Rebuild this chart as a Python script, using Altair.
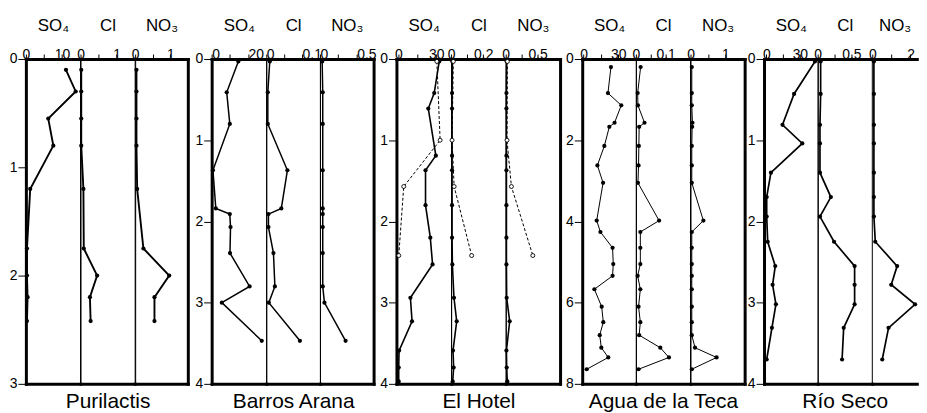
import altair as alt
import pandas as pd

FONT = "Liberation Sans"
H = 327

# ---------------- data ----------------
PANEL_NAMES = ["Purilactis", "Barros Arana", "El Hotel", "Agua de la Teca", "Río Seco"]
COL_TITLES = ["SO₄", "Cl", "NO₃"]

PUR_DEPTH = [0.1, 0.3, 0.55, 0.8, 1.2, 1.75, 2.0, 2.2, 2.42]
PUR_SO4 = [11.1, 13.8, 6.2, 7.6, 1.2, 0.3, 0.3, 0.47, 0.3]
PUR_CL = [0.02, 0.02, 0.02, 0.02, 0.08, 0.09, 0.46, 0.26, 0.28]
PUR_NO3 = [0.037, 0.037, 0.037, 0.037, 0.057, 0.235, 0.97, 0.55, 0.55]

BA_DEPTH = [0.03, 0.41, 0.80, 1.37, 1.84, 1.91, 2.07, 2.39, 2.80, 3.0, 3.47]
BA_SO4 = [14.7, 8.3, 10.0, 0.7, 2.3, 10.0, 10.4, 10.1, 20.9, 5.6, 27.6]
BA_CL = [0.0097, 0.0042, 0.0042, 0.059, 0.042, 0.006, 0.006, 0.020, 0.024, 0.007, 0.094]
BA_NO3 = [0.03, 0.038, 0.038, 0.038, 0.038, 0.038, 0.038, 0.038, 0.038, 0.061, 0.349]

EH_DEPTH = [0.03, 0.42, 0.61, 1.19, 1.37, 1.8, 2.2, 2.53, 2.94, 3.23, 3.59, 3.8, 3.97]
EH_SO4 = [32.4, 28.4, 23.7, 29.7, 21.5, 21.5, 25.3, 27.1, 9.5, 10.8, 0.5, 0.2, 0.2]
EH_CL = [0.008, 0.006, 0.006, 0.006, 0.006, 0.006, 0.006, 0.008, 0.018, 0.035, 0.012, 0.016, 0.01]
EH_NO3 = [0.015, 0.011, 0.011, 0.011, 0.011, 0.011, 0.011, 0.011, 0.015, 0.062, 0.011, 0.015, 0.025]
EH2_DEPTH = [0.03, 1.0, 1.57, 2.42]
EH2_SO4 = [30.5, 33.1, 4.2, 0.24]
EH2_CL = [0.014, 0.006, 0.019, 0.128]
EH2_NO3 = [0.026, 0.02, 0.089, 0.424]

AT_DEPTH = [0.2, 0.84, 1.14, 1.57, 1.67, 2.14, 2.62, 3.05, 3.98, 4.26, 4.65, 5.05, 5.34,
            5.67, 6.1, 6.48, 6.8, 7.11, 7.35, 7.64]
AT_SO4 = [23.7, 21.1, 32.6, 26.8, 22.3, 18.0, 12.0, 16.9, 11.4, 14.6, 25.1, 25.7, 25.1,
          9.4, 15.7, 17.1, 14.0, 15.4, 21.4, 2.8]
AT_CL = [0.016, 0.006, 0.007, 0.029, 0.011, 0.010, 0.009, 0.007, 0.078, 0.015, 0.015, 0.015,
         0.006, 0.015, 0.009, 0.015, 0.011, 0.082, 0.111, 0.009]
AT_NO3 = [0.037, 0.037, 0.037, 0.056, 0.047, 0.037, 0.037, 0.037, 0.37, 0.037, 0.037, 0.037,
          0.037, 0.037, 0.037, 0.037, 0.037, 0.13, 0.75, 0.037]

RS_DEPTH = [0.03, 0.43, 0.81, 1.04, 1.4, 1.7, 1.94, 2.25, 2.55, 2.78, 3.02, 3.31, 3.7]
RS_SO4 = [43.6, 24.8, 14.4, 32.2, 4.0, 0.2, 0.2, 1.1, 7.9, 5.5, 8.5, 4.9, 0.2]
RS_CL = [0.044, 0.044, 0.034, 0.034, 0.034, 0.196, 0.034, 0.243, 0.548, 0.548, 0.548, 0.386, 0.362]
RS_NO3 = [0.083, 0.083, 0.083, 0.083, 0.083, 0.083, 0.083, 0.156, 1.3, 0.99, 2.24, 0.85, 0.52]

# ---------------- panel layout / axis settings ----------------
PANELS = [
    dict(data=(PUR_DEPTH, PUR_SO4, PUR_CL, PUR_NO3), extra=None, dmax=3, yticks=[0, 1, 2, 3],
         widths=[54.5, 54.5, 53], doms=[[0, 15], [0, 1.5], [0, 1.5]],
         ticks=[[0, 5, 10], [0, 0.5, 1], [0, 0.5, 1]],
         labels=[{0: "0", 10: "10"}, {0: "0", 1: "1"}, {0: "0", 1: "1"}], align="center",
         lw=1.9, open_right=False),
    dict(data=(BA_DEPTH, BA_SO4, BA_CL, BA_NO3), extra=None, dmax=4, yticks=[0, 1, 2, 3, 4],
         widths=[54.8, 54, 54], doms=[[0, 30], [0, 0.15], [0, 0.73]],
         ticks=[[0, 10, 20], [0, 0.05, 0.1], [0, 0.25, 0.5]],
         labels=[{0: "0", 20: "20"}, {0: "0", 0.1: "0.1"}, {0: "0", 0.5: "0.5"}], align="left",
         lw=1.5, open_right=False),
    dict(data=(EH_DEPTH, EH_SO4, EH_CL, EH_NO3), extra=(EH2_DEPTH, EH2_SO4, EH2_CL, EH2_NO3),
         dmax=4, yticks=[0, 1, 2, 3, 4],
         widths=[55, 55, 54.7], doms=[[-1.6, 41.8], [0, 0.34], [0, 0.85]],
         ticks=[[0, 15, 30], [0, 0.1, 0.2], [0, 0.25, 0.5]],
         labels=[{0: "0", 30: "30"}, {0: "0", 0.2: "0.2"}, {0: "0", 0.5: "0.5"}], align="center",
         lw=1.6, open_right=False),
    dict(data=(AT_DEPTH, AT_SO4, AT_CL, AT_NO3), extra=None, dmax=8, yticks=[0, 2, 4, 6, 8],
         widths=[54, 54.5, 54.5], doms=[[-1.1, 45.2], [0, 0.1817], [0, 1.557]],
         ticks=[[0, 15, 30], [0, 0.05, 0.1], [0, 0.5, 1]],
         labels=[{0: "0", 30: "30"}, {0: "0", 0.1: "0.1"}, {0: "0", 1: "1"}], align="center",
         lw=1.0, open_right=False),
    dict(data=(RS_DEPTH, RS_SO4, RS_CL, RS_NO3), extra=None, dmax=4, yticks=[0, 1, 2, 3, 4],
         widths=[54, 54.5, 44.8], doms=[[-2.2, 46.0], [0, 0.803], [0, 2.33]],
         ticks=[[0, 15, 30], [0, 0.25, 0.5], [0, 1, 2]],
         labels=[{0: "0", 30: "30"}, {0: "0", 0.5: "0.5"}, {0: "0", 2: "2"}], align="center",
         lw=1.7, open_right=True),
]
GAPS = [23.7, 22.5, 21.5, 19]


def label_expr(d):
    parts = [f"datum.value == {k} ? '{v}'" for k, v in d.items()]
    return " : ".join(parts) + " : ''"


def column(panel, pidx, ci):
    depth, *vals = panel["data"]
    df = pd.DataFrame({"depth": depth, "v": vals[ci]})
    dmax = panel["dmax"]
    last_open = ci == 2 and panel["open_right"]

    if ci == 0:
        yaxis = alt.Axis(orient="left", values=panel["yticks"], title=None, tickSize=8,
                         labelPadding=1, labelFontSize=14, domainWidth=3, domainCap="square",
                         tickWidth=1)
    elif ci == 2 and not last_open:
        yaxis = alt.Axis(orient="right", title=None, labels=False, ticks=False,
                         domainWidth=3, domainCap="square")
    else:
        yaxis = None
    yscale = alt.Scale(domain=[0, dmax], reverse=True, nice=False, zero=False)
    y = alt.Y("depth:Q", scale=yscale, axis=yaxis)

    xscale = alt.Scale(domain=panel["doms"][ci], nice=False, zero=False)
    top_axis = alt.Axis(orient="top", values=panel["ticks"][ci],
                        labelExpr=label_expr(panel["labels"][ci]),
                        title=COL_TITLES[ci], titleFontSize=17, titlePadding=12.5,
                        labelFontSize=14, labelBaseline="middle", labelPadding=0,
                        tickSize=5, tickWidth=1,
                        domainWidth=3, domainCap="square", labelAlign=panel["align"],
                        labelFlush=False, labelOverlap=False)
    bottom_axis = alt.Axis(orient="bottom", labels=False, ticks=False, domainWidth=3,
                           domainCap="square",
                           title=PANEL_NAMES[pidx] if ci == 1 else None,
                           titleFontSize=21, titlePadding=7)

    base = alt.Chart(df)
    line = base.mark_line(color="black", strokeWidth=panel["lw"]).encode(
        x=alt.X("v:Q", scale=xscale, axis=top_axis), y=y, order="depth:Q")
    pts = base.mark_circle(color="black", size=18, opacity=1).encode(
        x=alt.X("v:Q", scale=xscale, axis=bottom_axis), y=y)
    layers = [line, pts]

    if panel["extra"] is not None:
        edepth, *evals = panel["extra"]
        df2 = pd.DataFrame({"depth": edepth, "v": evals[ci]})
        b2 = alt.Chart(df2)
        layers.append(b2.mark_line(color="black", strokeWidth=1, strokeDash=[3, 2]).encode(
            x=alt.X("v:Q", scale=xscale, axis=None), y=y, order="depth:Q"))
        layers.append(b2.mark_point(shape="circle", filled=True, fill="white", stroke="black",
                                    strokeWidth=0.9, size=16, opacity=1).encode(
            x=alt.X("v:Q", scale=xscale, axis=None), y=y))

    props = dict(width=panel["widths"][ci], height=H)
    if last_open:
        props["view"] = alt.ViewBackground(stroke="transparent")
    return alt.layer(*layers).resolve_axis(x="independent").properties(**props)


def spacer(w):
    return alt.Chart(pd.DataFrame({"z": []})).mark_point(opacity=0).properties(
        width=w, height=H, view=alt.ViewBackground(stroke="transparent"))


cells = []
for pidx, panel in enumerate(PANELS):
    if pidx > 0:
        cells.append(spacer(GAPS[pidx - 1]))
    for ci in range(3):
        cells.append(column(panel, pidx, ci))

chart = alt.hconcat(*cells, spacing=0, bounds="flush").properties(
    padding={"left": 0, "top": 7, "right": 0, "bottom": 0}
).configure(font=FONT).configure_view(
    stroke="black", strokeWidth=1
).configure_axis(
    labelFont=FONT, titleFont=FONT, labelColor="black", titleColor="black",
    tickColor="black", domainColor="black", titleFontWeight="normal", grid=False
)

chart.save("out.html", embed_options={"renderer": "svg", "actions": False})
